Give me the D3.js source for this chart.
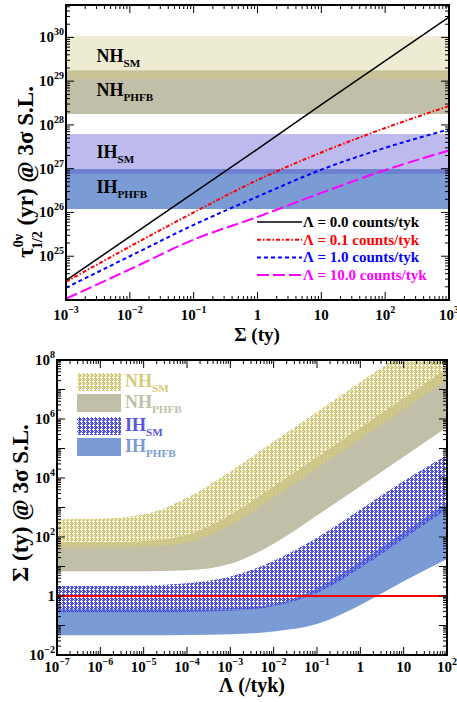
<!DOCTYPE html>
<html>
<head>
<meta charset="utf-8">
<script src="https://cdn.jsdelivr.net/npm/d3@7"></script>
<style>
body { margin: 0; background: #fff; }
text { font-family: "Liberation Serif", "Times New Roman", serif; font-weight: bold; }
</style>
</head>
<body>
<svg id="chart" width="457" height="702"></svg>
<script>
// ---------- data: top panel (half-life vs exposure) ----------
var exposure = [1e-3, 1e-2, 1e-1, 1, 10, 1e2, 1e3];
var bkgLabels = ["\u039b = 0.0 counts/tyk", "\u039b = 0.1 counts/tyk", "\u039b = 1.0 counts/tyk", "\u039b = 10.0 counts/tyk"];
var tauBkg0 = [2.8e24, 2.8e25, 2.8e26, 2.8e27, 2.9e28, 2.9e29, 2.9e30];
var tauBkg01 = [2.6e24, 1.66e25, 1.0e26, 5.5e26, 2.35e27, 8.5e27, 2.7e28];
var tauBkg1 = [1.9e24, 1.0e25, 5.2e25, 2.3e26, 9.5e26, 3.0e27, 7.9e27];
var tauBkg10 = [1.07e24, 5.0e24, 2.4e25, 7.9e25, 2.8e26, 9.3e26, 2.6e27];

var bandNames = ["NH", "NH", "IH", "IH"];
var bandSubs = ["SM", "PHFB", "SM", "PHFB"];
var tauBandLow = [1.12e29, 1.78e28, 7.6e26, 1.2e26];
var tauBandHigh = [1.07e30, 1.74e29, 6.2e27, 9.8e26];

var topXTicks = [1e-3, 1e-2, 1e-1, 1, 10, 1e2, 1e3];
var topYTicks = [1e25, 1e26, 1e27, 1e28, 1e29, 1e30];

// ---------- data: bottom panel (exposure vs background index) ----------
var bkgIndex = [1e-7, 1e-6, 1e-5, 1e-4, 1e-3, 1e-2, 1e-1, 1, 10, 1e2];
var nhSmHigh = [400, 417, 575, 2140, 1.66e4, 1.74e5, 1.74e6, 1.78e7, 1.78e8, 1.78e9];
var nhSmLow = [43.6, 43.6, 45.7, 64.6, 251, 2140, 2.09e4, 2.09e5, 2.09e6, 2.09e7];
var nhPhfbHigh = [67.6, 67.6, 72.4, 117, 562, 5130, 5.01e4, 5.01e5, 5.01e6, 5.01e7];
var nhPhfbLow = [6.9, 6.9, 6.9, 7.4, 12.3, 58.9, 537, 5250, 5.25e4, 5.25e5];
var ihSmHigh = [2.19, 2.19, 2.29, 2.7, 4.6, 15.5, 95, 860, 7900, 6.03e4];
var ihSmLow = [0.282, 0.282, 0.282, 0.288, 0.316, 0.447, 1.26, 8.9, 87, 891];
var ihPhfbHigh = [0.363, 0.363, 0.363, 0.363, 0.389, 0.525, 1.82, 14.8, 145, 1445];
var ihPhfbLow = [0.0468, 0.0468, 0.0468, 0.0479, 0.0501, 0.063, 0.112, 0.50, 3.16, 17.8];
var exposureLimit = 1;

var botXTicks = [1e-7, 1e-6, 1e-5, 1e-4, 1e-3, 1e-2, 1e-1, 1, 10, 1e2];
var botYTicks = [1e-2, 1, 1e2, 1e4, 1e6, 1e8];

var svg = d3.select("#chart");
var defs = svg.append("defs");

// hatch pattern (coloured cells on transparent background)
var hatchMask = ["#.##", "...#", "#.##", "##.#"];
function addHatch(id, color) {
	var p = defs.append("pattern")
		.attr("id", id)
		.attr("patternUnits", "userSpaceOnUse")
		.attr("width", 4)
		.attr("height", 4);
	hatchMask.forEach(function(row, j) {
		row.split("").forEach(function(c, i) {
			if (c == "#") p.append("rect").attr("x", i).attr("y", j).attr("width", 1).attr("height", 1).attr("fill", color);
		});
	});
}
addHatch("hatchNH", "#d4ca78");
addHatch("hatchIH", "#5050e0");

// ---------- helpers ----------
function allTicks(scale) {
	var d = scale.domain(), out = [];
	for (var e = Math.floor(Math.log10(d[0])); e <= Math.ceil(Math.log10(d[1])); e++) {
		for (var k = 1; k < 10; k++) {
			var v = k * Math.pow(10, e);
			if (v >= d[0] * 0.999 && v <= d[1] * 1.001) out.push({ v: v, major: k == 1 });
		}
	}
	return out;
}

function powLabel(text, v) {
	var e = Math.round(Math.log10(v));
	if (e == 0) text.text("1");
	else if (e == 1) text.text("10");
	else {
		text.append("tspan").text("10");
		text.append("tspan").attr("dy", -7).attr("font-size", 10)
			.text(e < 0 ? "\u2212" + (-e) : e);
	}
}

function drawFrame(g, x, y, xTicks, yTicks, xLabelY) {
	var xr = x.range(), yr = y.range();
	var tg = g.append("g").attr("stroke", "#000").attr("stroke-width", 1);
	allTicks(x).forEach(function(t) {
		var len = t.major ? 8 : 4;
		tg.append("line").attr("x1", x(t.v)).attr("x2", x(t.v)).attr("y1", yr[0]).attr("y2", yr[0] - len);
		tg.append("line").attr("x1", x(t.v)).attr("x2", x(t.v)).attr("y1", yr[1]).attr("y2", yr[1] + len);
	});
	allTicks(y).forEach(function(t) {
		var len = t.major ? 8 : 4;
		tg.append("line").attr("y1", y(t.v)).attr("y2", y(t.v)).attr("x1", xr[0]).attr("x2", xr[0] + len);
		tg.append("line").attr("y1", y(t.v)).attr("y2", y(t.v)).attr("x1", xr[1]).attr("x2", xr[1] - len);
	});
	g.append("rect")
		.attr("x", xr[0]).attr("y", yr[1])
		.attr("width", xr[1] - xr[0]).attr("height", yr[0] - yr[1])
		.attr("fill", "none").attr("stroke", "#000").attr("stroke-width", 2);

	xTicks.forEach(function(v) {
		var t = g.append("text").attr("x", x(v)).attr("y", xLabelY)
			.attr("text-anchor", "middle").attr("font-size", 15);
		powLabel(t, v);
	});
	yTicks.forEach(function(v) {
		var t = g.append("text").attr("x", xr[0] - 2).attr("y", y(v) + 5)
			.attr("text-anchor", "end").attr("font-size", 15);
		powLabel(t, v);
	});
}

function subLabel(g, x, y, main, sub, size, color) {
	var t = g.append("text").attr("x", x).attr("y", y).attr("font-size", size).attr("fill", color);
	t.append("tspan").text(main);
	t.append("tspan").attr("dy", 5).attr("font-size", size * 0.62).text(sub);
	return t;
}

// ---------- top panel ----------
var xTop = d3.scaleLog().domain([1e-3, 1e3]).range([66, 449]);
var yTop = d3.scaleLog().domain([1e24, 5.5e30]).range([300, 5]);

svg.append("clipPath").attr("id", "clipTop").append("rect")
	.attr("x", 66).attr("y", 5).attr("width", 383).attr("height", 295);
var gTop = svg.append("g");
var plotTop = gTop.append("g").attr("clip-path", "url(#clipTop)");

var topBandColors = ["#eeebd3", "#c2bfa8", "#bdbaee", "#7b9bd4"];
var topOverlapColors = ["#c9c297", "#6d80d1"];

tauBandLow.forEach(function(lo, i) {
	plotTop.append("rect")
		.attr("x", xTop(exposure[0]))
		.attr("width", xTop(exposure[exposure.length - 1]) - xTop(exposure[0]))
		.attr("y", yTop(tauBandHigh[i]))
		.attr("height", yTop(lo) - yTop(tauBandHigh[i]))
		.attr("fill", topBandColors[i]);
});
// overlap strips of SM and PHFB bands
[0, 2].forEach(function(i, k) {
	var lo = Math.max(tauBandLow[i], tauBandLow[i + 1]);
	var hi = Math.min(tauBandHigh[i], tauBandHigh[i + 1]);
	plotTop.append("rect")
		.attr("x", xTop(exposure[0]))
		.attr("width", xTop(exposure[exposure.length - 1]) - xTop(exposure[0]))
		.attr("y", yTop(hi)).attr("height", yTop(lo) - yTop(hi))
		.attr("fill", topOverlapColors[k]);
});

bandNames.forEach(function(n, i) {
	var mid = Math.sqrt(tauBandLow[i] * tauBandHigh[i]);
	subLabel(plotTop, xTop(3e-3), yTop(mid) + 4, n, bandSubs[i], 18, "#000");
});

var lineSeries = [tauBkg0, tauBkg01, tauBkg1, tauBkg10];
var lineColors = ["#000000", "#ff0000", "#0000ff", "#ff00ff"];
var lineDash = [null, "4,2,1.5,2", "4,3", "12,4"];
var lineWidth = [1.5, 2, 2, 2];

var tauLine = d3.line()
	.x(function(d, i) { return xTop(exposure[i]); })
	.y(function(d) { return yTop(d); })
	.curve(d3.curveMonotoneX);

lineSeries.forEach(function(s, i) {
	plotTop.append("path")
		.datum(s)
		.attr("d", tauLine)
		.attr("fill", "none")
		.attr("stroke", lineColors[i])
		.attr("stroke-width", lineWidth[i])
		.attr("stroke-dasharray", lineDash[i]);
});

// legend
bkgLabels.forEach(function(lab, i) {
	var ly = 222 + i * 17.7;
	gTop.append("line")
		.attr("x1", 257).attr("x2", 302).attr("y1", ly).attr("y2", ly)
		.attr("stroke", lineColors[i]).attr("stroke-width", lineWidth[i])
		.attr("stroke-dasharray", lineDash[i]);
	gTop.append("text").attr("x", 303).attr("y", ly + 5)
		.attr("font-size", 15).attr("fill", lineColors[i]).text(lab);
});

drawFrame(gTop, xTop, yTop, topXTicks, topYTicks, 320);

gTop.append("text").attr("x", 257).attr("y", 341).attr("text-anchor", "middle")
	.attr("font-size", 19).text("\u03a3 (ty)");

var yt = gTop.append("text").attr("transform", "translate(33,172) rotate(-90)")
	.attr("text-anchor", "middle").attr("font-size", 23);
yt.append("tspan").text("\u03c4");
yt.append("tspan").attr("font-size", 14).attr("dy", -10).text("0\u03bd");
yt.append("tspan").attr("font-size", 14).attr("dx", -15).attr("dy", 19).text("1/2");
yt.append("tspan").attr("dy", -9).text(" (yr) @ 3\u03c3 S.L.");

// ---------- bottom panel ----------
var xBot = d3.scaleLog().domain([1e-7, 1e2]).range([57, 447]);
var yBot = d3.scaleLog().domain([1e-2, 1e8]).range([655, 360]);

svg.append("clipPath").attr("id", "clipBot").append("rect")
	.attr("x", 57).attr("y", 360).attr("width", 390).attr("height", 295);
var gBot = svg.append("g");
var plotBot = gBot.append("g").attr("clip-path", "url(#clipBot)");

function bandArea(lo, hi) {
	return d3.area()
		.x(function(d, i) { return xBot(bkgIndex[i]); })
		.y0(function(d, i) { return yBot(lo[i]); })
		.y1(function(d, i) { return yBot(hi[i]); })
		.curve(d3.curveMonotoneX)(bkgIndex);
}

var botBands = [
	{ lo: nhPhfbLow, hi: nhPhfbHigh, fill: "#c2bfa8" },
	{ lo: nhSmLow, hi: nhSmHigh, fill: "url(#hatchNH)" },
	{ lo: ihPhfbLow, hi: ihPhfbHigh, fill: "#7b9bd4" },
	{ lo: ihSmLow, hi: ihSmHigh, fill: "url(#hatchIH)" }
];
botBands.forEach(function(b) {
	plotBot.append("path").attr("d", bandArea(b.lo, b.hi)).attr("fill", b.fill);
});

plotBot.append("line")
	.attr("x1", xBot(bkgIndex[0])).attr("x2", xBot(bkgIndex[bkgIndex.length - 1]))
	.attr("y1", yBot(exposureLimit)).attr("y2", yBot(exposureLimit))
	.attr("stroke", "#ff0000").attr("stroke-width", 2);

// legend
var botLegFill = ["url(#hatchNH)", "#c2bfa8", "url(#hatchIH)", "#7b9bd4"];
var botLegText = ["#d4ca78", "#c2bfa8", "#5656e2", "#7b9bd4"];
var botLegY = [373, 394, 417, 438];
bandNames.forEach(function(n, i) {
	gBot.append("rect").attr("x", 77).attr("y", botLegY[i]).attr("width", 44).attr("height", 18)
		.attr("fill", botLegFill[i]);
	subLabel(gBot, 125, botLegY[i] + 14, n, bandSubs[i], 18, botLegText[i]);
});

drawFrame(gBot, xBot, yBot, botXTicks, botYTicks, 672);

gBot.append("text").attr("x", 252).attr("y", 692).attr("text-anchor", "middle")
	.attr("font-size", 20).text("\u039b (/tyk)");
gBot.append("text").attr("transform", "translate(28,503) rotate(-90)")
	.attr("text-anchor", "middle").attr("font-size", 23).text("\u03a3 (ty) @ 3\u03c3 S.L.");
</script>
</body>
</html>
